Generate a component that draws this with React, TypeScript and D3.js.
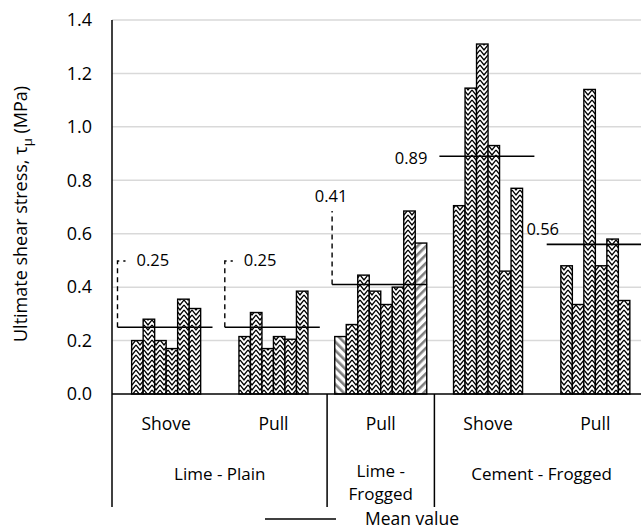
import * as d3 from "d3";

// sub categories along the x axis
const subLabels = ["Shove", "Pull", "Pull", "Shove", "Pull"];
// outer groups and how many sub categories each spans
const groupLabels = [["Lime - Plain"], ["Lime -", "Frogged"], ["Cement - Frogged"]];
const groupSpans = [2, 1, 2];

// ultimate shear stress of each specimen (MPa)
const limePlainShove = [0.2, 0.28, 0.2, 0.17, 0.355, 0.32];
const limePlainPull = [0.215, 0.305, 0.17, 0.215, 0.205, 0.385];
const limeFroggedPull = [0.215, 0.26, 0.445, 0.385, 0.335, 0.4, 0.685, 0.565];
const cementShove = [0.705, 1.145, 1.31, 0.93, 0.46, 0.77];
const cementPull = [0.48, 0.335, 1.14, 0.48, 0.58, 0.35];
const series = [limePlainShove, limePlainPull, limeFroggedPull, cementShove, cementPull];

// mean values
const means = [0.25, 0.25, 0.41, 0.89, 0.56];
const meanLabels = ["0.25", "0.25", "0.41", "0.89", "0.56"];

// specimens drawn with grey diagonal fill (category -> index -> direction)
const greyBars: Record<number, Record<number, string>> = { 2: { 0: "down", 7: "up" } };

const yTicks = [0, 0.2, 0.4, 0.6, 0.8, 1.0, 1.2, 1.4];

const W = 641;
const H = 529;
const font = "'Open Sans', sans-serif";

export default function App() {
  const y = d3.scaleLinear().domain([0, 1.4]).range([394, 20]);
  const x = d3.scaleBand<number>().domain(d3.range(5)).range([112.5, 112.5 + 5 * 107.3]);
  const barW = 11.5;
  const axisBottom = 507;

  // group boundaries
  let acc = 0;
  const groups = groupSpans.map((s, i) => {
    const start = x(acc)!;
    const end = start + s * x.bandwidth();
    acc += s;
    return { start, end, label: groupLabels[i] };
  });

  return (
    <svg width={W} height={H} style={{ position: "absolute", left: 0, top: 0, background: "#fff" }} fontFamily={font}>
      <defs>
        {/* vertical herringbone fill */}
        <pattern id="zig" patternUnits="userSpaceOnUse" width={8} height={5}>
          <rect width={8} height={5} fill="#fff" />
          <path d="M0,-5 L4,0 L8,-5 M0,0 L4,5 L8,0 M0,5 L4,10 L8,5" fill="none" stroke="#000" strokeWidth={1.3} />
        </pattern>
        <pattern id="greyDown" patternUnits="userSpaceOnUse" width={6} height={6} patternTransform="rotate(-45)">
          <rect width={6} height={6} fill="#fff" />
          <rect width={2.6} height={6} fill="#808080" />
        </pattern>
        <pattern id="greyUp" patternUnits="userSpaceOnUse" width={6} height={6} patternTransform="rotate(45)">
          <rect width={6} height={6} fill="#fff" />
          <rect width={2.6} height={6} fill="#808080" />
        </pattern>
      </defs>

      {/* gridlines */}
      {yTicks.slice(1).map((t) => (
        <line key={t} x1={112} x2={W} y1={y(t)} y2={y(t)} stroke="#d9d9d9" strokeWidth={1.5} />
      ))}

      {/* y tick labels */}
      {yTicks.map((t) => (
        <text key={t} x={92} y={y(t)} dy="0.35em" textAnchor="end" fontSize={18} fill="#000">
          {t.toFixed(1)}
        </text>
      ))}

      {/* y axis title */}
      <text transform="translate(27,214) rotate(-90)" textAnchor="middle" fontSize={18} fill="#000">
        Ultimate shear stress, τ
        <tspan fontSize={13} dy={5}>μ</tspan>
        <tspan dy={-5}> (MPa)</tspan>
      </text>

      {/* bars */}
      {series.map((vals, ci) => {
        const c = x(ci)! + x.bandwidth() / 2;
        const inner = d3
          .scaleBand<number>()
          .domain(d3.range(vals.length))
          .range([c - (vals.length * barW) / 2, c + (vals.length * barW) / 2]);
        return (
          <g key={ci}>
            {vals.map((v, i) => {
              const g = greyBars[ci]?.[i];
              const fill = g === "down" ? "url(#greyDown)" : g === "up" ? "url(#greyUp)" : "url(#zig)";
              return (
                <rect
                  key={i}
                  x={inner(i)}
                  y={y(v)}
                  width={inner.bandwidth()}
                  height={y(0) - y(v)}
                  fill={fill}
                  stroke="#000"
                  strokeWidth={1.4}
                />
              );
            })}
          </g>
        );
      })}

      {/* mean lines and labels */}
      {means.map((m, ci) => {
        const x0 = x(ci)! + 5;
        const x1 = x(ci)! + 100;
        const ym = y(m);
        let label = null;
        if (ci < 2) {
          const top = 261;
          label = (
            <g>
              <path d={`M${x0},${ym} V${top} H${x0 + 8}`} fill="none" stroke="#000" strokeWidth={1.4} strokeDasharray="5,4" />
              <text x={x0 + 19} y={top - 1} dy="0.35em" fontSize={16.5}>{meanLabels[ci]}</text>
            </g>
          );
        } else if (ci === 2) {
          const top = 211;
          label = (
            <g>
              <path d={`M${x0},${ym} V${top}`} fill="none" stroke="#000" strokeWidth={1.4} strokeDasharray="5,4" />
              <text x={x0 - 1} y={top - 15} dy="0.35em" textAnchor="middle" fontSize={16.5}>{meanLabels[ci]}</text>
            </g>
          );
        } else if (ci === 3) {
          label = (
            <text x={x0 - 12} y={ym + 2} dy="0.35em" textAnchor="end" fontSize={16.5}>{meanLabels[ci]}</text>
          );
        } else {
          label = (
            <text x={x0 - 4} y={ym - 15} dy="0.35em" textAnchor="middle" fontSize={16.5}>{meanLabels[ci]}</text>
          );
        }
        return (
          <g key={ci}>
            <line x1={x0} x2={x1} y1={ym} y2={ym} stroke="#000" strokeWidth={1.6} />
            {label}
          </g>
        );
      })}

      {/* axes */}
      <line x1={112} x2={W} y1={y(0)} y2={y(0)} stroke="#000" strokeWidth={1.5} />
      <line x1={112} x2={112} y1={y(1.4)} y2={axisBottom} stroke="#000" strokeWidth={1.5} />
      {groups.slice(1).map((g, i) => (
        <line key={i} x1={g.start} x2={g.start} y1={y(0)} y2={axisBottom} stroke="#000" strokeWidth={1.5} />
      ))}

      {/* category labels */}
      {subLabels.map((s, i) => (
        <text key={i} x={x(i)! + x.bandwidth() / 2} y={424} dy="0.35em" textAnchor="middle" fontSize={17.5}>
          {s}
        </text>
      ))}
      {groups.map((g, i) =>
        g.label.map((l, j) => (
          <text
            key={i + "-" + j}
            x={(g.start + g.end) / 2}
            y={(g.label.length > 1 ? 471 : 474) + j * 23}
            dy="0.35em"
            textAnchor="middle"
            fontSize={17}
          >
            {l}
          </text>
        ))
      )}

      {/* legend */}
      <line x1={265} x2={336} y1={519} y2={519} stroke="#000" strokeWidth={1.6} />
      <text x={365} y={519} dy="0.35em" fontSize={17.5}>Mean value</text>
    </svg>
  );
}
